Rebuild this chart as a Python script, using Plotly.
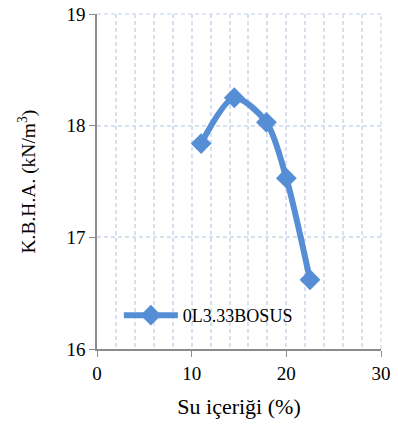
import plotly.graph_objects as go

su_icerigi = [11.0, 14.5, 17.9, 20.0, 22.5]
kbha = [17.84, 18.25, 18.03, 17.53, 16.62]
seri_adi = "0L3.33BOSUS"

renk = "#558ED5"
grid = "#D6E0F0"
font_aile = "Liberation Serif, Times New Roman, serif"

fig = go.Figure()
fig.add_trace(
    go.Scatter(
        x=su_icerigi,
        y=kbha,
        mode="lines+markers",
        name=seri_adi,
        line=dict(color=renk, width=6, shape="spline", smoothing=0.8),
        marker=dict(symbol="diamond", size=16, color=renk),
    )
)

# dashed grid lines on the top and right edges of the plot area
fig.add_shape(type="line", xref="paper", yref="paper", x0=0, x1=1, y0=1, y1=1,
              line=dict(color=grid, width=1.5, dash="4px,3px"), layer="below")
fig.add_shape(type="line", xref="paper", yref="paper", x0=1, x1=1, y0=0, y1=1,
              line=dict(color=grid, width=1.5, dash="4px,3px"), layer="below")

# y axis title placed by hand (standoff does nothing with automargin off)
fig.add_annotation(
    text="K.B.H.A. (kN/m<sup>3</sup>)", textangle=-90,
    xref="paper", yref="paper", x=0, y=0.5, xshift=-70,
    xanchor="center", yanchor="middle", showarrow=False,
    font=dict(size=19.5),
)

fig.update_layout(
    width=398,
    height=428,
    margin=dict(l=97, r=17, t=14, b=79),
    paper_bgcolor="white",
    plot_bgcolor="white",
    font=dict(family=font_aile, size=18, color="black"),
    showlegend=True,
    legend=dict(
        x=0.077, y=0.1, xanchor="left", yanchor="middle",
        bgcolor="rgba(0,0,0,0)", font=dict(size=18),
        itemwidth=54,
    ),
    xaxis=dict(
        range=[0, 30], tickvals=[0, 10, 20, 30],
        showline=True, linecolor="#8C8C8C", linewidth=1.5,
        ticks="outside", ticklen=6, tickcolor="#8C8C8C",
        tickfont=dict(size=19),
        showgrid=True, gridcolor=grid, griddash="4px,3px", gridwidth=1.5,
        minor=dict(dtick=2, showgrid=True, gridcolor=grid, griddash="4px,3px", gridwidth=1.5),
        zeroline=False,
        automargin=False,
        ticklabeloverflow="allow",
        title=dict(text="Su içeriği (%)", standoff=16),
    ),
    yaxis=dict(
        range=[16, 19], tickvals=[16, 17, 18, 19],
        showline=True, linecolor="#8C8C8C", linewidth=1.5,
        ticks="outside", ticklen=6, tickcolor="#8C8C8C",
        tickfont=dict(size=19),
        showgrid=True, gridcolor=grid, griddash="4px,3px", gridwidth=1.5,
        zeroline=False,
        automargin=False,
        ticklabeloverflow="allow",
    ),
)

# drop the default 8px page margin so the figure fills the window
fig.write_html(
    "out.html",
    config={"displayModeBar": False},
    post_script="document.body.style.margin='0px';",
)
